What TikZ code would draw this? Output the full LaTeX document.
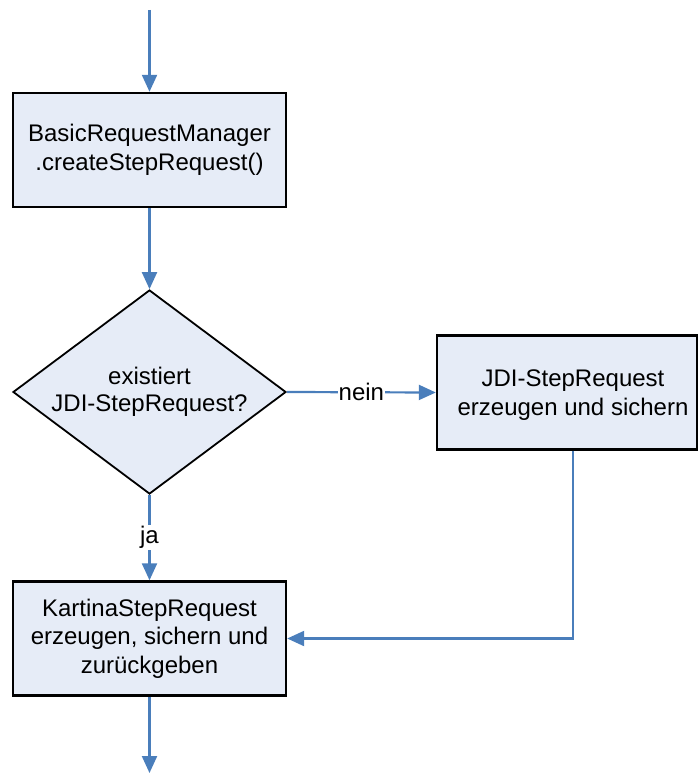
\documentclass[tikz,border=0pt]{standalone}
\usepackage{fontspec}
\setmainfont{Liberation Sans}
\usetikzlibrary{arrows.meta,shapes.geometric}
\definecolor{flowline}{HTML}{4A7EBB}
\definecolor{boxfill}{HTML}{E6ECF7}
\tikzset{
  procbox/.style={draw=black, line width=2.4pt, fill=boxfill, rectangle,
    minimum width=273pt, minimum height=114pt, inner sep=0pt,
    font=\fontsize{24pt}{28.5pt}\selectfont, align=center},
  decision/.style={draw=black, line width=1.8pt, fill=boxfill, diamond,
    aspect=1.34, minimum width=273pt, minimum height=204pt, inner sep=0pt,
    font=\fontsize{24pt}{27pt}\selectfont, align=center},
  flow/.style={draw=flowline, line width=2.2pt,
    -{Triangle[length=17pt,width=15pt]}},
  edgelabel/.style={fill=white, inner sep=1pt, font=\fontsize{24pt}{28pt}\selectfont}
}
\begin{document}
\begin{tikzpicture}[x=1pt,y=-1pt]
\useasboundingbox (0,0) rectangle (698,773);

\node[procbox] (b1) at (149.5,150) {BasicRequestManager\\.createStepRequest()};
\node[decision] (d) at (149.5,392) {existiert\\JDI-StepRequest?};
\node[procbox, minimum width=260pt] (b2) at (567,392.5) {};
\node[font=\fontsize{24pt}{28.5pt}\selectfont, align=center] (b2text) at (573,395)
  {JDI-StepRequest\\erzeugen und sichern};
\node[procbox] (b3) at (149.5,638.5) {KartinaStepRequest\\erzeugen, sichern und\\zurückgeben};

\coordinate (start) at (149.5,10);
\coordinate (finish) at (149.5,773);

\draw[flow] (start) -- (b1.north);
\draw[flow] (b1.south) -- (d.north);
\draw[flow] (d.east) -- node[edgelabel] (nein) {nein} (b2.west);
\draw[flow] (d.south) -- node[edgelabel, pos=0.5] (ja) {ja} (b3.north);
\draw[flow] (b2.south -| b2text) |- (b3.east);
\draw[flow] (b3.south) -- (finish);
\end{tikzpicture}
\end{document}
